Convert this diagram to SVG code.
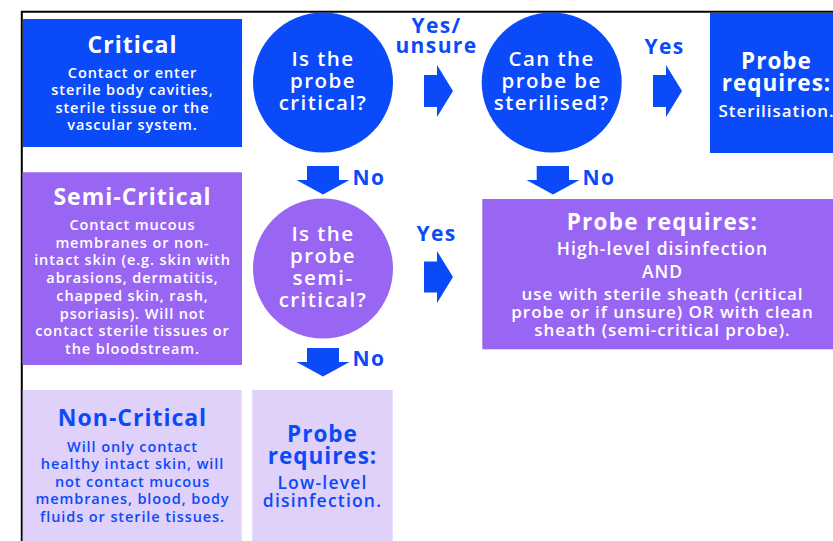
<svg xmlns="http://www.w3.org/2000/svg" width="833" height="541" viewBox="0 0 833 541">
<style>
text{font-family:"Open Sans","Liberation Sans",sans-serif;text-anchor:middle}
.t{font-size:22.5px;font-weight:700;letter-spacing:1px}
.b{font-size:14.5px;font-weight:600;letter-spacing:0.9px}
.q{font-size:20.5px;font-weight:600;fill:#fff;letter-spacing:1.45px}
.m{font-size:17px;font-weight:600;letter-spacing:0.95px}
.w{fill:#fff}
.bl{fill:#0a4af8}
.lab{font-size:21px;font-weight:700;fill:#0a4af8;letter-spacing:1.4px}
.pu{fill:#9966f3}
.lt{fill:#e0d1fb}
</style>
<rect x="0" y="0" width="833" height="541" fill="#fff"/>
<g id="frame">
<path d="M21.8 541 V11.8 H833" fill="none" stroke="#000" stroke-width="2"/>
</g>
<g id="critical">
<rect x="23" y="19" width="219" height="128" class="bl"/>
<text x="132.5" y="53" class="t w" style="font-size:23px">Critical</text>
<text class="b w"><tspan x="132.5" y="77.7">Contact or enter</tspan><tspan x="132.5" y="95.2">sterile body cavities,</tspan><tspan x="132.5" y="112.7">sterile tissue or the</tspan><tspan x="132.5" y="130.2">vascular system.</tspan></text>
</g>
<g id="q-critical">
<circle cx="323" cy="82.5" r="70" class="bl"/>
<text class="q"><tspan x="323" y="65.5">Is the</tspan><tspan x="323" y="87.5">probe</tspan><tspan x="323" y="109.5">critical?</tspan></text>
</g>
<g id="q-sterilise">
<circle cx="551.7" cy="82.5" r="70" class="bl"/>
<text class="q"><tspan x="551.7" y="65.5">Can the</tspan><tspan x="551.7" y="87.5">probe be</tspan><tspan x="551.7" y="109.5">sterilised?</tspan></text>
</g>
<g id="sterilisation">
<rect x="710" y="13" width="133" height="140" class="bl"/>
<text class="t w"><tspan x="776.5" y="69">Probe</tspan><tspan x="776.5" y="91">requires:</tspan></text>
<text x="776.5" y="116.5" class="m w">Sterilisation.</text>
</g>
<g id="semi-critical">
<rect x="22.5" y="172.3" width="219.5" height="192.7" class="pu"/>
<text x="132.5" y="204.5" class="t w" style="font-size:23px">Semi-Critical</text>
<text class="b w"><tspan x="132.5" y="230">Contact mucous</tspan><tspan x="132.5" y="247.7">membranes or non-</tspan><tspan x="132.5" y="265.4">intact skin (e.g. skin with</tspan><tspan x="132.5" y="283.1">abrasions, dermatitis,</tspan><tspan x="132.5" y="300.8">chapped skin, rash,</tspan><tspan x="132.5" y="318.5">psoriasis). Will not</tspan><tspan x="132.5" y="336.2">contact sterile tissues or</tspan><tspan x="132.5" y="353.9">the bloodstream.</tspan></text>
</g>
<g id="q-semi">
<circle cx="323" cy="268.5" r="70" class="pu"/>
<text class="q"><tspan x="323" y="241">Is the</tspan><tspan x="323" y="263">probe</tspan><tspan x="323" y="285.3">semi-</tspan><tspan x="323" y="307.3">critical?</tspan></text>
</g>
<g id="high-level">
<rect x="482.3" y="199" width="361" height="150.3" class="pu"/>
<text x="662.5" y="230" class="t w" style="letter-spacing:1.3px">Probe requires:</text>
<text class="m w"><tspan x="662.5" y="255" style="font-size:17.5px;letter-spacing:1.05px">High-level disinfection</tspan><tspan x="662.5" y="277.5" style="font-size:17.5px">AND</tspan><tspan x="662.5" y="300">use with sterile sheath (critical</tspan><tspan x="662.5" y="318">probe or if unsure) OR with clean</tspan><tspan x="662.5" y="336">sheath (semi-critical probe).</tspan></text>
</g>
<g id="non-critical">
<rect x="22.7" y="390" width="219" height="151" class="lt"/>
<text x="132.5" y="426" class="t bl" style="font-size:23px">Non-Critical</text>
<text class="b bl"><tspan x="132.5" y="451.7">Will only contact</tspan><tspan x="132.5" y="469.2">healthy intact skin, will</tspan><tspan x="132.5" y="486.7">not contact mucous</tspan><tspan x="132.5" y="504.2">membranes, blood, body</tspan><tspan x="132.5" y="521.7">fluids or sterile tissues.</tspan></text>
</g>
<g id="low-level">
<rect x="252.3" y="390" width="140.4" height="151" class="lt"/>
<text class="t bl"><tspan x="322.5" y="441.7">Probe</tspan><tspan x="322.5" y="464">requires:</tspan></text>
<text class="m bl" style="font-size:17.5px;letter-spacing:1.2px"><tspan x="322.5" y="489.3">Low-level</tspan><tspan x="322.5" y="506.8">disinfection.</tspan></text>
</g>
<g id="connectors" class="bl">
<polygon points="424,75 437,75 437,65 453,91 437,117 437,107 424,107"/>
<polygon points="653,75 666,75 666,65 682,91 666,117 666,107 653,107"/>
<polygon points="424,261.5 437,261.5 437,251 453,277 437,303 437,292.5 424,292.5"/>
<polygon points="307,166 339,166 339,180 349.5,180 323,194.5 296.5,180 307,180"/>
<polygon points="307,348 339,348 339,362 349.5,362 323,376.5 296.5,362 307,362"/>
<polygon points="536.7,166 569,166 569,180 579.5,180 553,194.5 526.5,180 536.7,180"/>
<text class="lab"><tspan x="436.5" y="33.3">Yes/</tspan><tspan x="436.5" y="53.3">unsure</tspan></text>
<text x="664.5" y="54" class="lab">Yes</text>
<text x="436.5" y="241" class="lab">Yes</text>
<text x="352.5" y="185" class="lab" style="text-anchor:start">No</text>
<text x="352.5" y="366" class="lab" style="text-anchor:start">No</text>
<text x="582.5" y="185" class="lab" style="text-anchor:start">No</text>
</g>
</svg>
